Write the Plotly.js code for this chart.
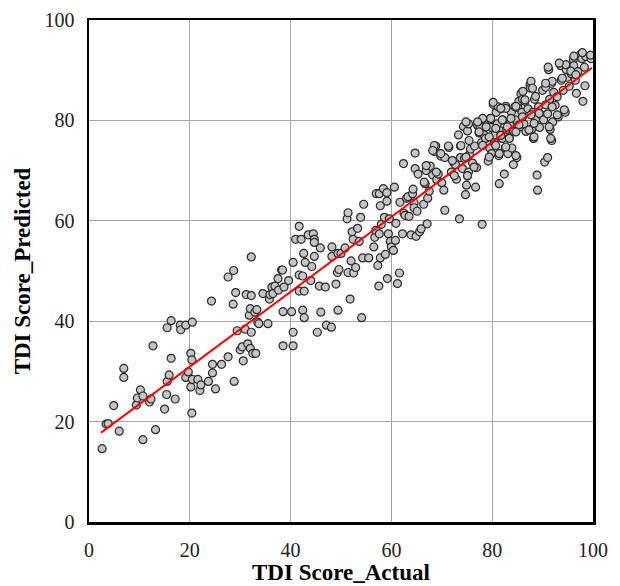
<!DOCTYPE html>
<html>
<head>
<meta charset="utf-8">
<script src="https://cdn.plot.ly/plotly-3.0.1.min.js"></script>
<style>html,body{margin:0;padding:0;background:#fff;}#chart{width:620px;height:586px;}</style>
</head>
<body>
<div id="chart"></div>
<script>
const actual = [2.6,3.4,3.8,6.0,4.9,6.9,6.9,9.4,9.6,10.2,10.7,10.7,12.0,12.3,12.7,13.2,15.0,15.4,15.5,15.9,15.5,16.3,16.3,17.1,18.1,18.2,19.2,19.2,19.7,20.2,20.4,20.5,20.4,20.2,20.5,21.6,22.0,22.2,23.7,24.3,24.5,24.5,25.1,26.3,27.6,27.6,28.7,28.6,28.8,29.1,29.4,30.0,30.4,30.6,31.0,31.2,31.5,31.8,32.0,32.2,32.2,32.2,32.0,32.5,32.9,33.3,33.1,33.5,33.7,34.5,35.5,35.8,35.9,36.3,36.5,36.9,37.5,37.6,38.2,38.4,38.5,38.5,38.7,39.6,40.2,40.5,40.5,40.5,41.0,41.7,41.7,41.7,42.1,42.4,42.4,42.6,42.7,42.7,42.9,43.5,44.0,44.2,44.5,44.7,44.7,44.7,45.3,45.7,45.9,46.0,46.9,47.1,48.1,48.2,48.2,49.0,49.3,49.4,49.4,49.6,50.0,50.8,51.2,51.4,51.4,51.8,52.0,52.2,52.4,52.5,52.9,53.3,53.6,53.9,54.1,54.3,54.5,55.5,56.5,56.7,56.9,57.0,57.3,57.5,57.6,57.6,57.8,57.8,58.0,58.4,58.6,58.8,59.1,59.1,59.2,59.4,59.6,59.8,60.0,60.4,60.6,60.8,60.9,61.2,61.6,61.7,62.2,62.4,62.5,62.7,63.0,63.3,63.5,63.9,64.2,64.3,64.5,64.5,64.7,64.7,64.9,65.1,65.3,65.6,65.9,66.4,66.7,66.9,67.1,67.2,67.5,67.7,68.2,68.5,68.8,69.0,69.3,69.8,70.0,70.4,70.6,70.6,71.4,71.9,72.4,72.7,72.9,73.3,73.5,73.7,73.7,74.1,74.3,74.5,74.7,74.9,75.1,75.1,75.3,75.3,75.5,75.7,76.1,76.5,76.7,76.9,77.1,77.4,77.6,77.9,78.0,78.2,78.4,78.7,79.0,79.2,79.5,79.6,79.8,79.9,80.2,80.4,80.5,80.8,81.0,81.2,81.3,81.4,81.6,81.8,82.0,82.1,82.4,82.6,82.7,82.9,83.1,83.4,83.5,83.8,83.9,84.2,84.3,84.5,84.7,84.9,85.1,85.3,85.5,85.7,85.9,86.0,86.3,86.5,86.7,87.1,87.5,87.6,87.8,88.1,88.2,88.4,88.6,88.9,89.0,89.2,89.4,89.6,90.0,90.2,90.4,90.6,91.0,91.0,91.2,91.4,91.5,91.8,91.8,92.0,92.2,92.5,92.9,93.1,93.6,93.7,94.1,94.5,94.7,94.9,95.3,95.7,96.1,96.2,96.5,96.7,97.0,97.5,97.8,98.0,98.3,98.4,98.6,99.6,
97.9,99.5,96.2,94.6,93.3,91.1,95.6,96.6,93.9,91.9,90.6,87.7,88.0,86.1,88.6,86.5,84.7,82.7,81.7,80.2,90.6,91.9,89.3,87.7,86.0,92.9,94.3,83.7,82.0,79.7,78.1,74.8,77.1,78.8,80.7,83.0,85.3,88.3,91.3,77.4,79.4,81.7,83.4,84.7,87.3,88.3,91.6,75.4,73.8,78.1,80.7,82.7,68.5,68.2,71.3,69.8,72.1,74.8,76.4,79.4,81.4,84.7,66.9,68.9,66.5,75.1,72.5];

const predicted = [14.6,19.5,19.6,18.1,23.2,30.6,28.8,23.3,24.7,26.3,25.1,16.4,23.9,24.5,35.1,18.4,22.5,25.4,28.0,29.3,38.7,40.1,32.6,24.5,39.2,38.3,39.2,28.8,29.9,33.6,32.3,39.8,21.7,26.9,28.4,28.4,26.2,27.3,28.0,44.0,31.4,29.7,26.5,31.4,32.9,48.8,50.1,43.4,28.0,45.7,38.1,34.3,34.9,32.1,38.4,45.3,35.5,41.2,42.5,45.1,52.8,37.8,34.6,33.6,41.8,42.3,33.6,39.8,39.5,45.5,39.5,44.4,45.3,46.8,45.5,47.0,48.5,46.2,50.2,50.2,35.1,41.9,46.8,48.1,41.9,37.8,35.1,51.7,56.3,58.9,49.2,46.0,56.3,49.0,42.2,53.5,46.0,40.7,51.7,57.2,48.1,50.9,57.4,56.3,52.9,55.7,37.8,47.0,54.6,41.8,46.8,39.2,38.8,54.8,52.9,47.4,49.7,42.2,53.5,50.3,53.5,54.6,60.4,61.6,49.7,44.4,52.0,57.8,56.3,49.6,50.7,58.5,55.9,60.7,40.7,52.6,63.3,52.6,54.8,56.7,58.1,65.4,51.1,47.0,65.4,57.4,63.0,52.6,59.3,66.4,60.7,53.3,65.6,63.9,48.5,57.4,60.4,55.9,54.8,54.1,66.7,56.1,59.5,47.5,49.6,63.7,57.4,71.4,61.5,61.1,64.5,64.8,60.9,57.2,65.4,66.3,63.6,62.6,73.5,70.4,56.9,61.9,69.3,57.8,58.4,63.3,67.4,70.0,59.4,64.5,65.9,70.9,69.1,73.8,74.9,68.2,69.3,72.9,67.6,66.1,72.6,62.1,74.6,69.7,71.5,71.2,68.3,77.1,60.4,72.6,74.9,70.4,78.8,72.4,65.2,67.1,77.9,68.9,69.7,79.3,73.2,74.3,71.5,74.9,66.7,70.6,79.0,77.5,78.6,75.6,59.3,80.1,77.1,76.4,79.3,71.9,74.5,80.4,78.6,73.4,83.2,75.6,77.1,81.6,79.3,82.7,73.0,67.4,77.9,82.3,76.4,80.1,69.3,74.5,82.8,78.2,73.4,76.5,79.3,81.6,74.5,71.2,77.8,82.7,80.1,72.6,82.5,83.8,78.7,85.3,81.6,84.2,79.3,83.8,77.8,82.3,87.1,86.4,78.2,81.6,76.4,84.2,80.2,69.1,66.1,82.7,78.6,81.2,86.0,80.1,71.7,86.6,72.6,81.3,90.1,84.2,78.2,76.0,87.4,79.7,85.6,83.0,84.7,80.7,90.9,88.0,86.0,81.6,90.1,88.6,86.8,89.3,92.1,90.9,88.0,85.4,89.7,93.1,92.3,83.8,90.6,86.9,92.7,92.3,
93.5,93.0,92.8,91.1,91.4,90.6,89.8,89.1,88.4,87.8,87.4,87.8,86.4,85.8,84.8,84.1,82.8,82.4,82.4,83.6,83.1,82.7,81.4,81.1,80.7,81.1,82.1,80.4,80.1,80.4,80.4,79.7,79.7,78.7,78.4,78.7,79.1,79.4,78.7,77.7,76.7,77.0,76.4,77.7,78.1,76.7,76.4,76.0,75.0,75.0,75.0,74.7,75.0,74.0,74.9,73.4,72.0,72.7,70.7,72.7,73.4,73.0,71.0,69.7,67.7,69.0,69.0];

// Fitted regression line endpoints
const fitX = [2.4, 99.8];
const fitY = [17.8, 90.5];

const xTicks = [0, 20, 40, 60, 80, 100];
const yTicks = [0, 20, 40, 60, 80, 100];

const xTitle = 'TDI Score_Actual';
const yTitle = 'TDI Score_Predicted';

const serif = "Liberation Serif";

const traces = [
  {
    x: actual, y: predicted, type: 'scatter', mode: 'markers',
    marker: {size: 8, color: '#c4c4c4', line: {color: '#2a2a2a', width: 1.2}},
    hoverinfo: 'x+y', showlegend: false
  },
  {
    x: fitX, y: fitY, type: 'scatter', mode: 'lines',
    line: {color: '#ff0000', width: 2},
    hoverinfo: 'skip', showlegend: false
  }
];

const axisCommon = {
  range: [0, 100],
  showgrid: true, gridcolor: '#a6a6a6', gridwidth: 1.3,
  zeroline: false,
  showline: true, linecolor: '#000', linewidth: 2.5, mirror: true,
  ticks: '', tickfont: {family: serif, size: 20, color: '#222'},
  fixedrange: true
};

const layout = {
  width: 620, height: 586,
  margin: {l: 89, r: 27, t: 20, b: 64},
  paper_bgcolor: '#fff', plot_bgcolor: '#fff',
  showlegend: false,
  font: {family: serif},
  xaxis: Object.assign({}, axisCommon, {
    tickvals: xTicks, ticktext: xTicks.map(String),
    ticklabelstandoff: 8
  }),
  yaxis: Object.assign({}, axisCommon, {
    tickvals: yTicks, ticktext: yTicks.map(String),
    ticklabelstandoff: 8,
    title: {text: yTitle, font: {family: serif, size: 23, color: '#000', weight: 'bold'}, standoff: 8}
  }),
  annotations: [{
    text: xTitle, xref: 'paper', yref: 'paper', x: 0.5, y: 0,
    xanchor: 'center', yanchor: 'top', yshift: -36, showarrow: false,
    font: {family: serif, size: 23, color: '#000', weight: 'bold'}
  }]
};

Plotly.newPlot('chart', traces, layout, {displayModeBar: false, staticPlot: true});
</script>
</body>
</html>
